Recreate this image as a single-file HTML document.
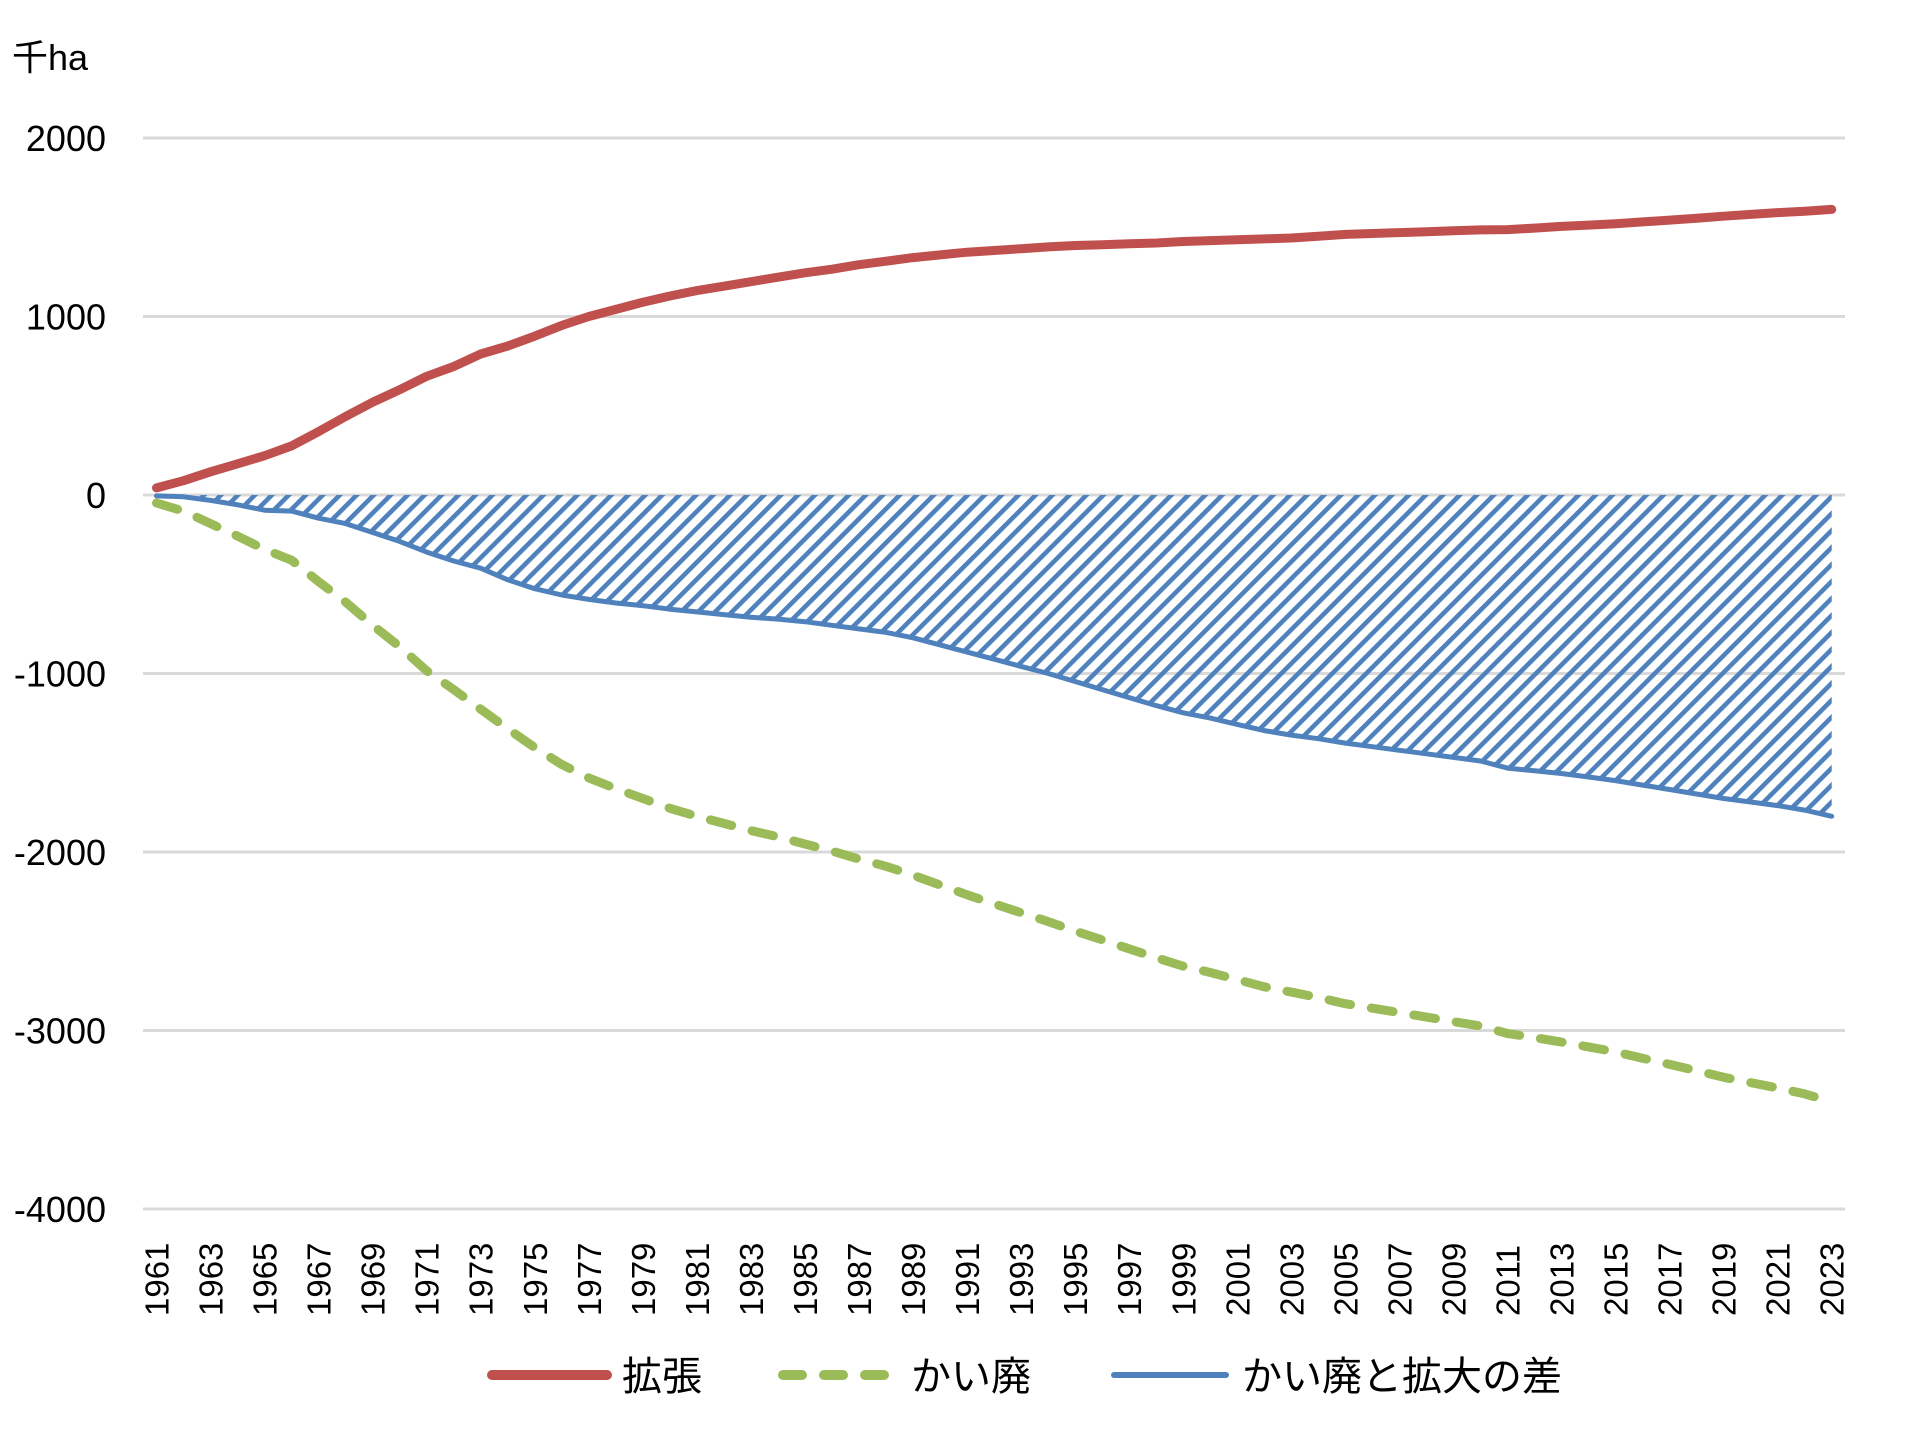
<!DOCTYPE html>
<html><head><meta charset="utf-8"><style>
html,body{margin:0;padding:0;background:#fff;}
svg{display:block;}
text{font-family:"Liberation Sans","Noto Sans CJK JP",sans-serif;fill:#000;}
</style></head><body>
<svg id="c" width="1906" height="1434" viewBox="0 0 1906 1434" xmlns="http://www.w3.org/2000/svg">
<defs>
<pattern id="h" patternUnits="userSpaceOnUse" width="12" height="19" patternTransform="rotate(45)">
<rect x="0" y="0" width="4.6" height="19" fill="#4f81bd"/>
</pattern>
</defs>
<g id="grid" stroke="#d9d9d9" stroke-width="3"></g>
<g id="ylab" font-size="36" text-anchor="end"></g>
<text x="12" y="70" font-size="36">千ha</text>
<g id="series"></g>
<g id="xlab" font-size="33"></g>
<g>
<line x1="492" y1="1375" x2="607" y2="1375" stroke="#c0504d" stroke-width="10" stroke-linecap="round"/>
<text x="622" y="1390" font-size="40">拡張</text>
<line x1="783" y1="1375" x2="890" y2="1375" stroke="#9bbb59" stroke-width="10" stroke-linecap="round" stroke-dasharray="19 22"/>
<text x="911" y="1390" font-size="40">かい廃</text>
<line x1="1114" y1="1375" x2="1226" y2="1375" stroke="#4f81bd" stroke-width="6" stroke-linecap="round"/>
<text x="1242" y="1390" font-size="40">かい廃と拡大の差</text>
</g>
</svg>
<script>
(function(){
var NS="http://www.w3.org/2000/svg";
function el(t,a,p,txt){var e=document.createElementNS(NS,t);for(var k in a)e.setAttribute(k,a[k]);if(txt!==undefined)e.textContent=txt;p.appendChild(e);return e;}
function Y(v){return 495-v*0.1785;}
function X(i){return 156.5+i*27.02;}
var g=document.getElementById('grid'),yl=document.getElementById('ylab');
for(var v=2000;v>=-4000;v-=1000){
 el('line',{x1:143,x2:1845,y1:Y(v),y2:Y(v)},g);
 el('text',{x:106,y:Y(v)+13},yl,String(v));
}
var red=[40,80,130,175,220,275,355,440,520,590,665,720,790,835,890,950,1000,1040,1080,1115,1145,1170,1195,1220,1245,1265,1290,1310,1330,1345,1360,1370,1380,1390,1398,1402,1408,1412,1420,1425,1430,1435,1440,1450,1460,1465,1470,1475,1480,1485,1487,1495,1505,1512,1520,1530,1540,1550,1562,1572,1582,1590,1600];
var blue=[-5,-10,-30,-55,-85,-90,-130,-160,-210,-260,-320,-370,-410,-475,-525,-560,-585,-605,-620,-640,-655,-670,-685,-695,-710,-730,-750,-770,-800,-840,-880,-920,-960,-1000,-1045,-1090,-1135,-1180,-1220,-1250,-1285,-1320,-1345,-1365,-1390,-1410,-1430,-1450,-1470,-1490,-1530,-1545,-1560,-1580,-1600,-1625,-1650,-1675,-1700,-1720,-1740,-1765,-1800];
var green=blue.map(function(b,i){return b-red[i];});
function pts(a){return a.map(function(v,i){return X(i).toFixed(1)+','+Y(v).toFixed(1);}).join(' ');}
var s=document.getElementById('series');
var area='M'+X(0)+','+Y(0)+' L'+pts(blue).split(' ').join(' L')+' L'+X(62)+','+Y(0)+' Z';
el('path',{d:area,fill:'url(#h)'},s);
el('polyline',{points:pts(blue),fill:'none',stroke:'#4f81bd','stroke-width':5,'stroke-linejoin':'round','stroke-linecap':'round'},s);
el('polyline',{points:pts(green),fill:'none',stroke:'#9bbb59','stroke-width':9,'stroke-linejoin':'round','stroke-linecap':'round','stroke-dasharray':'22 21'},s);
el('polyline',{points:pts(red),fill:'none',stroke:'#c0504d','stroke-width':9,'stroke-linejoin':'round','stroke-linecap':'round'},s);
var xl=document.getElementById('xlab');
for(var i=0;i<63;i+=2){
 var x=X(i)+12,y=1316;
 el('text',{x:x,y:y,transform:'rotate(-90 '+x+' '+y+')'},xl,String(1961+i));
}
})();
</script>
</body></html>
